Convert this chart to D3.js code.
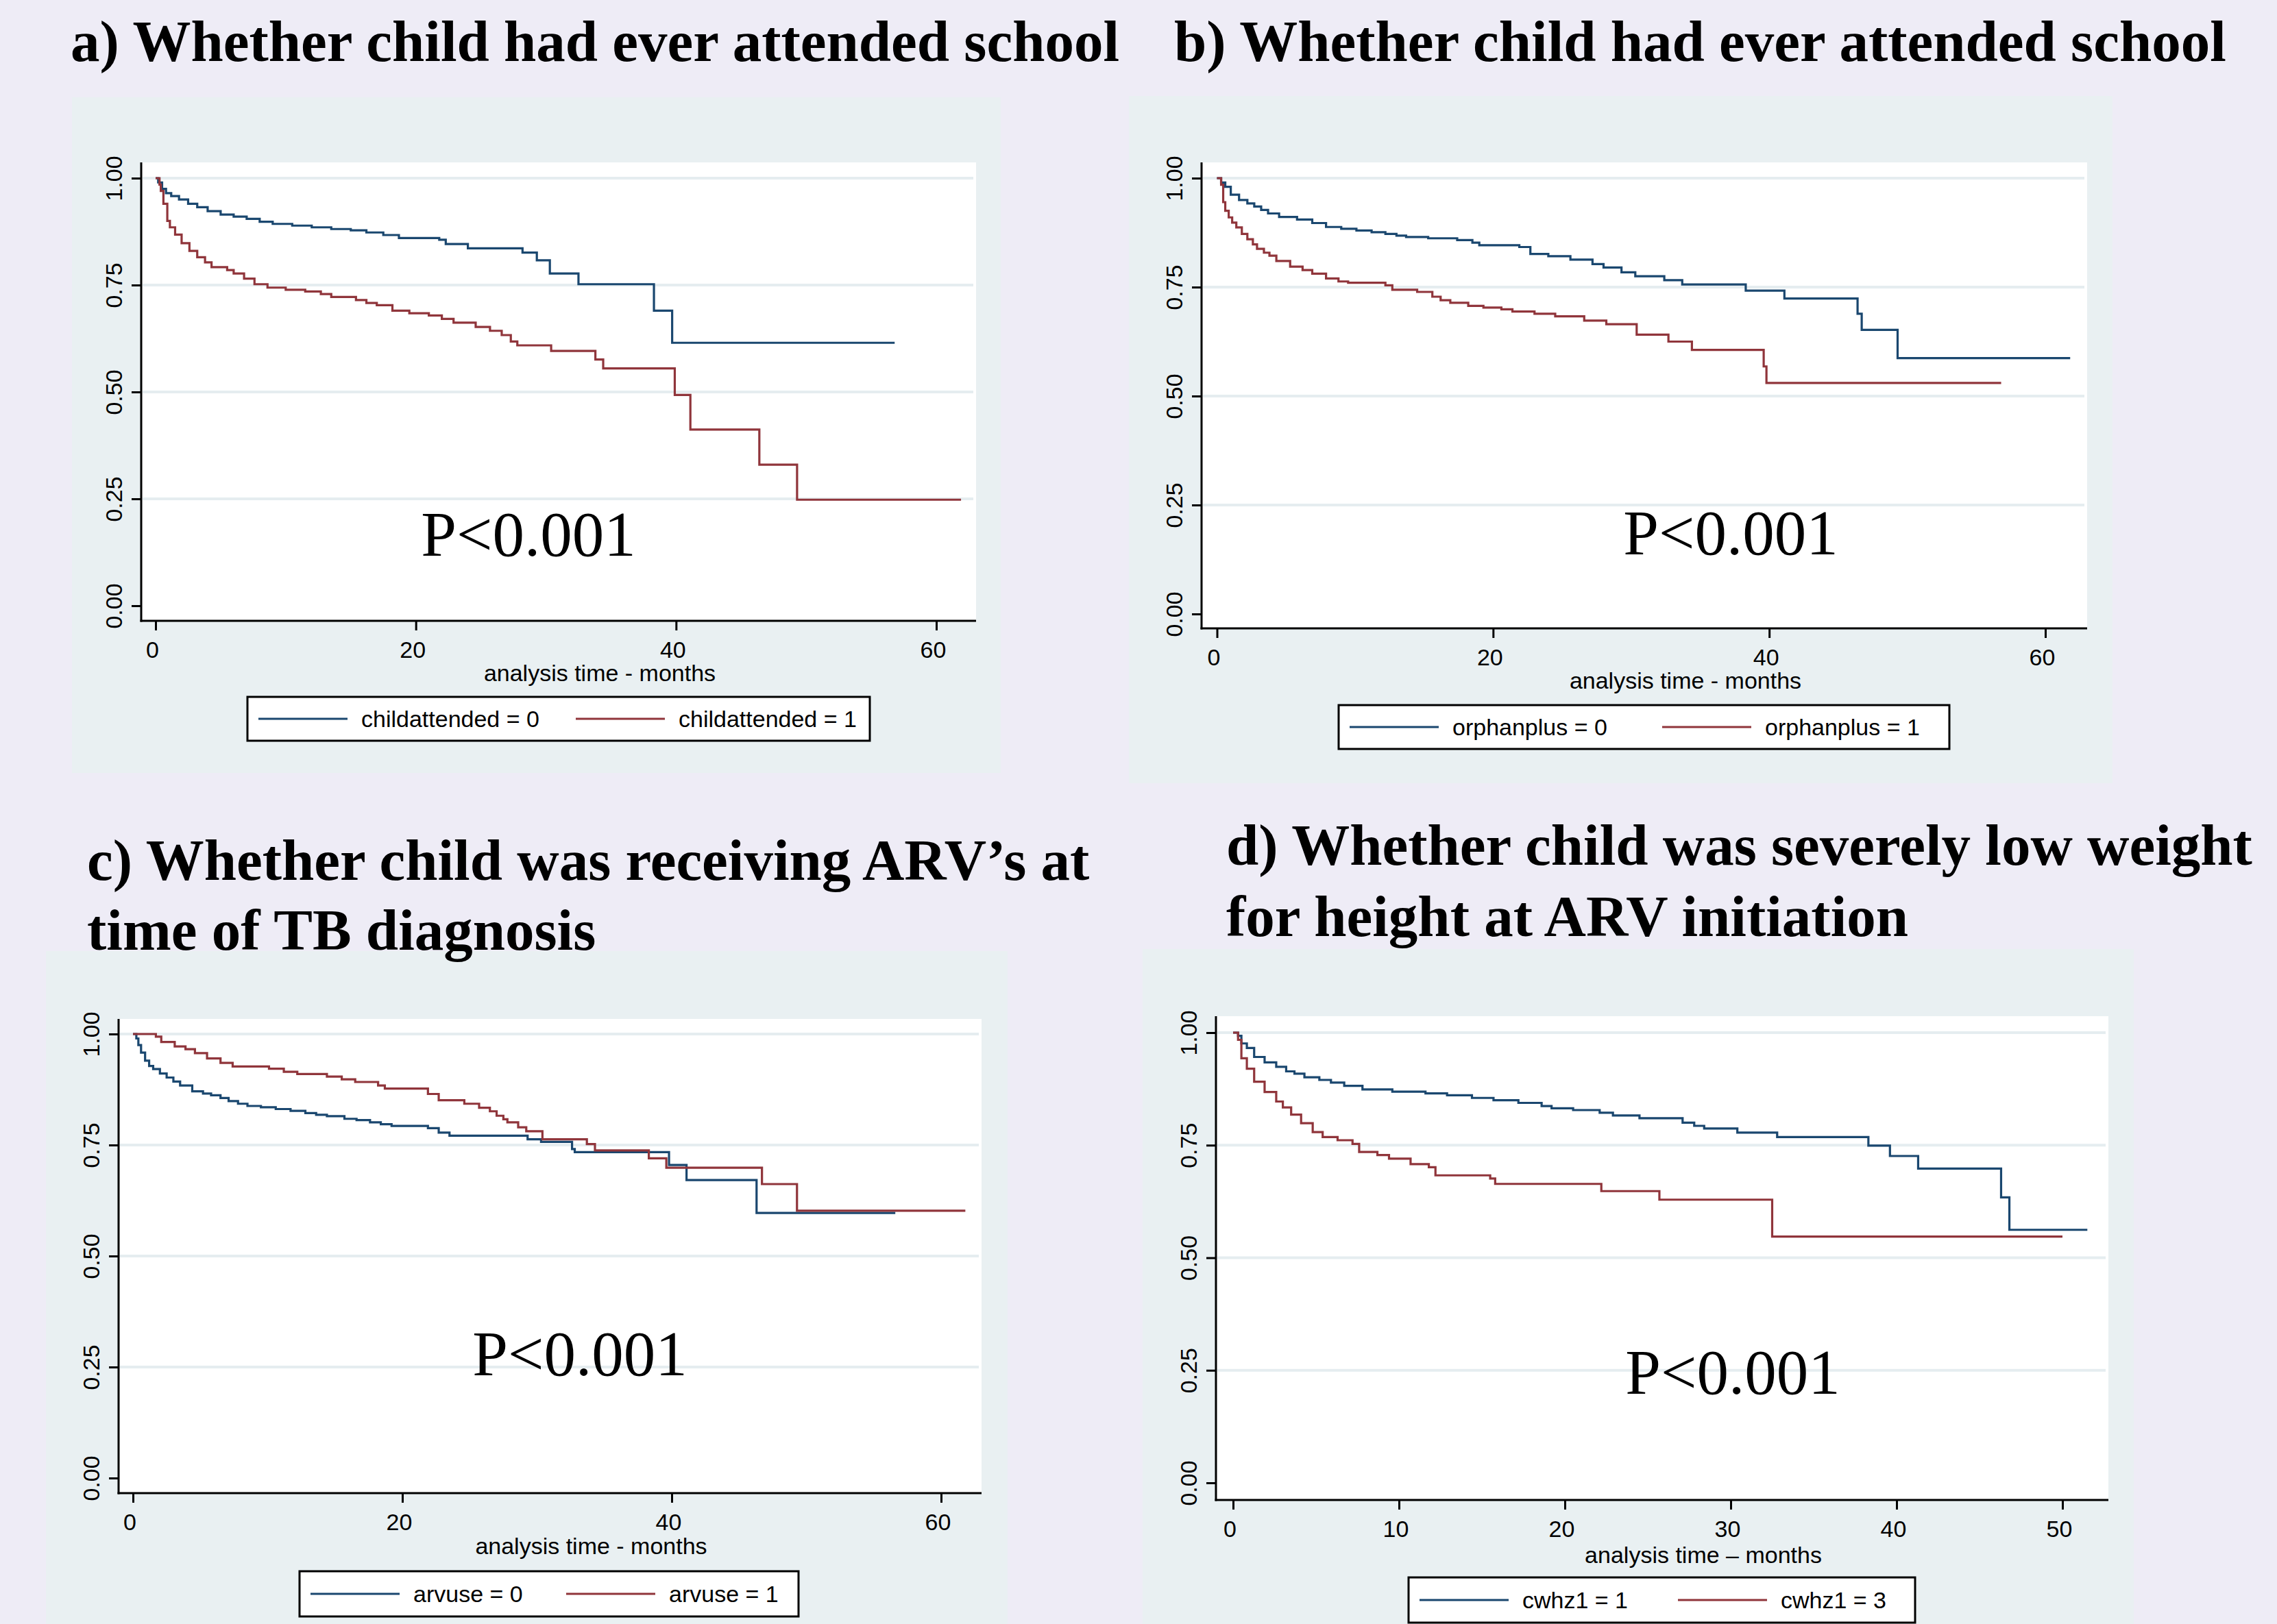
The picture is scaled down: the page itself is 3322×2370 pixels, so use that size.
<!DOCTYPE html>
<html>
<head>
<meta charset="utf-8">
<script src="https://cdn.jsdelivr.net/npm/d3@7"></script>
<style>
  html, body { margin: 0; padding: 0; background: #eeecf6; }
  svg { display: block; }
</style>
</head>
<body>
<div id="chart"></div>
<script>
// Kaplan-Meier survival steps: [months, survival]
const childattended0 = [[0,1],[0.2,0.99],[0.5,0.975],[0.8,0.965],[1.2,0.958],[1.8,0.95],[2.5,0.94],[3.2,0.932],[4.0,0.923],[5.0,0.915],[6.0,0.91],[7.0,0.905],[8.0,0.898],[9.0,0.893],[10.5,0.889],[12.0,0.885],[13.5,0.881],[15.0,0.878],[16.2,0.873],[17.5,0.867],[18.7,0.86],[21.8,0.856],[22.3,0.846],[24.0,0.836],[28.2,0.826],[29.3,0.808],[30.3,0.777],[32.5,0.752],[38.3,0.69],[39.7,0.615],[56.8,0.615]];
const childattended1 = [[0,1],[0.3,0.985],[0.4,0.97],[0.6,0.94],[0.9,0.9],[1.1,0.885],[1.5,0.868],[2.0,0.848],[2.6,0.83],[3.2,0.815],[3.8,0.803],[4.3,0.792],[5.5,0.785],[6.0,0.777],[6.8,0.765],[7.6,0.752],[8.6,0.744],[10.0,0.739],[11.5,0.735],[12.7,0.729],[13.5,0.722],[15.4,0.715],[16.2,0.708],[17.0,0.703],[18.2,0.69],[19.5,0.684],[21.0,0.679],[22.0,0.671],[22.9,0.662],[24.6,0.652],[25.7,0.643],[26.6,0.633],[27.3,0.618],[27.8,0.609],[30.4,0.596],[33.8,0.576],[34.4,0.555],[39.9,0.493],[41.1,0.412],[46.4,0.33],[49.3,0.248],[61.9,0.248]];

const orphanplus0 = [[0,1],[0.3,0.99],[0.6,0.98],[1.0,0.962],[1.6,0.95],[2.2,0.942],[2.7,0.935],[3.2,0.927],[3.7,0.919],[4.5,0.911],[5.8,0.905],[6.9,0.897],[7.9,0.888],[9.0,0.884],[10.1,0.88],[11.2,0.876],[12.2,0.872],[13.0,0.868],[13.7,0.865],[15.3,0.862],[17.4,0.858],[18.5,0.852],[19.0,0.846],[21.9,0.842],[22.7,0.826],[24.0,0.821],[25.6,0.813],[27.2,0.803],[28.0,0.795],[29.3,0.784],[30.3,0.775],[32.4,0.766],[33.7,0.756],[38.3,0.742],[41.1,0.724],[46.4,0.689],[46.7,0.652],[49.3,0.587],[61.8,0.587]];
const orphanplus1 = [[0,1],[0.3,0.985],[0.45,0.945],[0.6,0.925],[0.85,0.91],[1.1,0.898],[1.4,0.887],[1.8,0.872],[2.2,0.86],[2.6,0.848],[2.9,0.838],[3.4,0.829],[3.8,0.822],[4.3,0.81],[5.3,0.797],[6.2,0.789],[6.9,0.781],[7.9,0.77],[8.8,0.763],[9.5,0.76],[12.2,0.754],[12.7,0.744],[14.5,0.739],[15.6,0.728],[16.2,0.72],[16.9,0.714],[18.2,0.707],[19.3,0.703],[20.6,0.699],[21.4,0.694],[23.0,0.689],[24.5,0.683],[26.6,0.673],[28.2,0.665],[30.4,0.641],[32.7,0.625],[34.4,0.606],[39.6,0.568],[39.8,0.53],[56.8,0.53]];

const arvuse0 = [[0,1],[0.25,0.99],[0.4,0.975],[0.6,0.958],[0.9,0.94],[1.2,0.928],[1.5,0.921],[2.0,0.911],[2.5,0.902],[3.0,0.893],[3.5,0.884],[4.4,0.871],[5.2,0.866],[5.8,0.862],[6.5,0.856],[7.1,0.849],[7.8,0.843],[8.5,0.838],[9.5,0.835],[10.6,0.831],[11.7,0.827],[12.8,0.822],[13.6,0.818],[14.4,0.815],[15.7,0.809],[16.6,0.806],[17.6,0.801],[18.4,0.797],[19.2,0.793],[21.9,0.788],[22.7,0.778],[23.5,0.771],[29.3,0.763],[30.3,0.757],[32.6,0.741],[32.8,0.734],[39.8,0.705],[41.1,0.671],[46.3,0.597],[56.6,0.597]];
const arvuse1 = [[0,1],[1.7,0.994],[2.1,0.982],[3.1,0.972],[3.9,0.966],[4.6,0.957],[5.5,0.945],[6.5,0.935],[7.4,0.927],[10.1,0.922],[11.2,0.915],[12.2,0.91],[14.4,0.904],[15.5,0.898],[16.5,0.892],[18.2,0.884],[18.7,0.877],[21.9,0.865],[22.7,0.851],[24.6,0.843],[25.7,0.834],[26.5,0.826],[27.0,0.816],[27.5,0.808],[27.8,0.801],[28.6,0.79],[29.2,0.781],[30.4,0.763],[33.7,0.752],[34.3,0.738],[38.3,0.72],[39.6,0.699],[46.7,0.662],[49.3,0.602],[61.8,0.602]];

const cwhz1_1 = [[0,1],[0.3,0.993],[0.5,0.976],[0.83,0.966],[1.27,0.946],[1.9,0.934],[2.6,0.924],[3.2,0.914],[3.7,0.909],[4.3,0.901],[5.2,0.895],[5.9,0.889],[6.7,0.882],[7.8,0.874],[9.6,0.869],[11.6,0.865],[12.9,0.861],[14.4,0.855],[15.7,0.85],[17.2,0.844],[18.6,0.837],[19.2,0.832],[20.5,0.828],[22.1,0.822],[22.9,0.816],[24.5,0.81],[27.1,0.8],[27.8,0.793],[28.4,0.787],[30.4,0.778],[32.8,0.768],[38.3,0.749],[39.6,0.726],[41.3,0.698],[46.3,0.634],[46.8,0.562],[51.5,0.562]];
const cwhz1_3 = [[0,1],[0.3,0.984],[0.5,0.943],[0.83,0.92],[1.27,0.891],[1.9,0.868],[2.6,0.847],[3.0,0.834],[3.5,0.818],[4.1,0.799],[4.8,0.779],[5.4,0.768],[6.3,0.761],[7.2,0.753],[7.6,0.735],[8.7,0.728],[9.4,0.72],[10.7,0.708],[11.8,0.701],[12.2,0.683],[15.5,0.676],[15.8,0.664],[22.2,0.648],[25.7,0.629],[32.5,0.547],[50,0.547]];

const yTicks = [0, 0.25, 0.5, 0.75, 1];
const xTicks60 = [0, 20, 40, 60];
const xTicks50 = [0, 10, 20, 30, 40, 50];

const titleA = ["a) Whether child had ever attended school"];
const titleB = ["b) Whether child had ever attended school"];
const titleC = ["c) Whether child was receiving ARV\u2019s at", "time of TB diagnosis"];
const titleD = ["d) Whether child was severely low weight", "for height at ARV initiation"];

const legendA = ["childattended = 0", "childattended = 1"];
const legendB = ["orphanplus = 0", "orphanplus = 1"];
const legendC = ["arvuse = 0", "arvuse = 1"];
const legendD = ["cwhz1 = 1", "cwhz1 = 3"];

const colors = ["#1a476f", "#90353b"];
const serif = "'Liberation Serif', 'Times New Roman', serif";
const sans = "'Liberation Sans', Arial, sans-serif";

// Layout for each panel (pixel boxes), data hooked in by name
const panels = [
  { title: titleA, tx: 103, ty: [89], bg: [105, 142, 1460, 1128],
    plot: [206, 237, 1424, 906], xr: [227, 1366], yr: [884, 260], xmax: 60, xTicks: xTicks60,
    xTitle: "analysis time - months", xtDy: 88, series: [childattended0, childattended1], legend: legendA,
    lg: [361, 1017, 908, 64], col2: 463, p: [771, 811] },
  { title: titleB, tx: 1713, ty: [89], bg: [1647, 140, 3082, 1143],
    plot: [1753, 237, 3045, 917], xr: [1775.5, 2984], yr: [896, 260], xmax: 60, xTicks: xTicks60,
    xTitle: "analysis time - months", xtDy: 88, series: [orphanplus0, orphanplus1], legend: legendB,
    lg: [1953, 1029, 891, 64], col2: 456, p: [2525, 809] },
  { title: titleC, tx: 127, ty: [1284, 1386], bg: [67, 1388, 1470, 2370],
    plot: [173, 1487, 1432, 2179], xr: [194, 1373], yr: [2157, 1509], xmax: 60, xTicks: xTicks60,
    xTitle: "analysis time - months", xtDy: 89, series: [arvuse0, arvuse1], legend: legendC,
    lg: [437, 2293, 728, 66], col2: 373, p: [846, 2007] },
  { title: titleD, tx: 1789, ty: [1262, 1366], bg: [1667, 1385, 3113, 2370],
    plot: [1774, 1483, 3076, 2189], xr: [1799, 3009], yr: [2164, 1507], xmax: 50, xTicks: xTicks50,
    xTitle: "analysis time \u2013 months", xtDy: 92, series: [cwhz1_1, cwhz1_3], legend: legendD,
    lg: [2055, 2302, 739, 66], col2: 377, p: [2528, 2034] }
];

const svg = d3.select("#chart")
  .append("svg")
  .attr("width", 3322)
  .attr("height", 2370);

svg.append("rect")
  .attr("width", 3322).attr("height", 2370)
  .attr("fill", "#eeecf6");

panels.forEach(drawPanel);

function drawPanel(cfg) {
  const g = svg.append("g");
  const [px0, py0, px1, py1] = cfg.plot;

  // grey graph region
  g.append("rect")
    .attr("x", cfg.bg[0]).attr("y", cfg.bg[1])
    .attr("width", cfg.bg[2] - cfg.bg[0]).attr("height", cfg.bg[3] - cfg.bg[1])
    .attr("fill", "#e9f0f2");

  // title lines
  cfg.title.forEach((line, i) => {
    g.append("text")
      .attr("x", cfg.tx).attr("y", cfg.ty[i])
      .attr("font-family", serif).attr("font-weight", "bold")
      .attr("font-size", 85).attr("fill", "#000")
      .text(line);
  });

  // white plot region
  g.append("rect")
    .attr("x", px0).attr("y", py0)
    .attr("width", px1 - px0).attr("height", py1 - py0)
    .attr("fill", "#fff");

  const x = d3.scaleLinear().domain([0, cfg.xmax]).range(cfg.xr);
  const y = d3.scaleLinear().domain([0, 1]).range(cfg.yr);

  // gridlines
  g.append("g").selectAll("line")
    .data(yTicks.filter(d => d > 0))
    .join("line")
    .attr("x1", px0 + 2).attr("x2", px1 - 4)
    .attr("y1", d => y(d)).attr("y2", d => y(d))
    .attr("stroke", "#e5edf0").attr("stroke-width", 4);

  // survival curves
  const line = d3.line()
    .x(d => x(d[0]))
    .y(d => y(d[1]))
    .curve(d3.curveStepAfter);

  cfg.series.forEach((s, i) => {
    g.append("path")
      .datum(s)
      .attr("d", line)
      .attr("fill", "none")
      .attr("stroke", colors[i])
      .attr("stroke-width", 3.2);
  });

  // y axis
  const yAxis = g.append("g")
    .attr("transform", `translate(${px0},0)`)
    .call(d3.axisLeft(y).tickValues(yTicks).tickSize(14).tickSizeOuter(0).tickFormat(d3.format(".2f")));
  yAxis.select(".domain").remove();
  yAxis.selectAll(".tick line").attr("stroke", "#000").attr("stroke-width", 3);
  yAxis.selectAll(".tick text")
    .attr("x", 0).attr("dy", null)
    .attr("transform", "translate(-40,0) rotate(-90)")
    .attr("text-anchor", "middle")
    .attr("dominant-baseline", "central")
    .attr("font-family", sans).attr("font-size", 34).attr("fill", "#000");

  // x axis
  const xAxis = g.append("g")
    .attr("transform", `translate(0,${py1})`)
    .call(d3.axisBottom(x).tickValues(cfg.xTicks).tickSize(14).tickSizeOuter(0));
  xAxis.select(".domain").remove();
  xAxis.selectAll(".tick line").attr("stroke", "#000").attr("stroke-width", 3);
  xAxis.selectAll(".tick text")
    .attr("x", -5).attr("y", 54).attr("dy", null)
    .attr("font-family", sans).attr("font-size", 34).attr("fill", "#000");

  // axis lines along the plot edges
  g.append("line")
    .attr("x1", px0).attr("x2", px0).attr("y1", py0).attr("y2", py1 + 1.5)
    .attr("stroke", "#000").attr("stroke-width", 3);
  g.append("line")
    .attr("x1", px0 - 1.5).attr("x2", px1).attr("y1", py1).attr("y2", py1)
    .attr("stroke", "#000").attr("stroke-width", 3);

  // x axis title
  g.append("text")
    .attr("x", (px0 + px1) / 2 + 60).attr("y", py1 + cfg.xtDy)
    .attr("text-anchor", "middle")
    .attr("font-family", sans).attr("font-size", 34).attr("fill", "#000")
    .text(cfg.xTitle);

  // legend
  const [lx, ly, lw, lh] = cfg.lg;
  g.append("rect")
    .attr("x", lx).attr("y", ly).attr("width", lw).attr("height", lh)
    .attr("fill", "#fff").attr("stroke", "#000").attr("stroke-width", 3);
  cfg.legend.forEach((label, i) => {
    const ox = lx + 16 + i * cfg.col2;
    const cy = ly + lh / 2;
    g.append("line")
      .attr("x1", ox).attr("x2", ox + 130).attr("y1", cy).attr("y2", cy)
      .attr("stroke", colors[i]).attr("stroke-width", 3.2);
    g.append("text")
      .attr("x", ox + 150).attr("y", cy + 12)
      .attr("font-family", sans).attr("font-size", 34).attr("fill", "#000")
      .text(label);
  });

  // p-value annotation
  g.append("text")
    .attr("x", cfg.p[0]).attr("y", cfg.p[1])
    .attr("text-anchor", "middle")
    .attr("font-family", serif).attr("font-size", 93).attr("fill", "#000")
    .text("P<0.001");
}
</script>
</body>
</html>
